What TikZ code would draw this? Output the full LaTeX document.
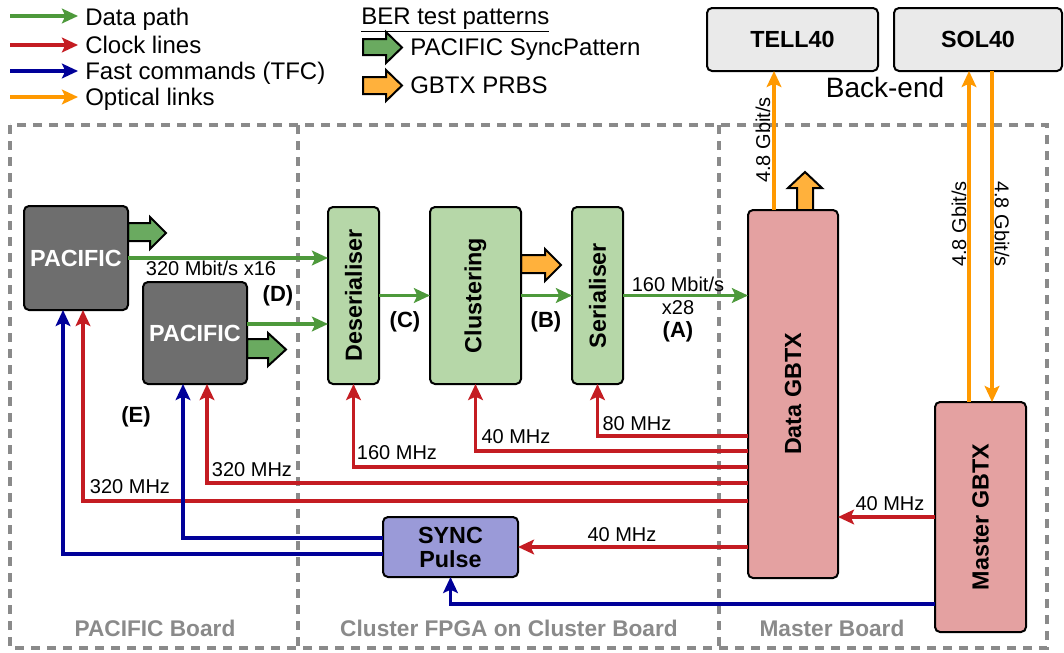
\documentclass[tikz,border=0pt]{standalone}
\usepackage{fontspec}
\setmainfont{Liberation Sans}
\usetikzlibrary{arrows.meta,calc}
\definecolor{cgreen}{RGB}{77,153,59}
\definecolor{cred}{RGB}{196,28,34}
\definecolor{cblue}{RGB}{0,0,153}
\definecolor{corange}{RGB}{255,153,0}
\definecolor{bgreen}{RGB}{106,170,96}
\definecolor{borange}{RGB}{255,177,60}
\definecolor{lgreen}{RGB}{182,215,168}
\definecolor{pink}{RGB}{228,161,161}
\definecolor{lav}{RGB}{154,154,216}
\definecolor{pacgray}{RGB}{110,110,110}
\definecolor{lgray}{RGB}{234,234,234}
\definecolor{fgray}{RGB}{138,138,138}
\newcommand{\myLbl}{\fontsize{15}{18}\selectfont}
\newcommand{\myLeg}{\fontsize{18}{21}\selectfont}
\newcommand{\myBox}{\bfseries\fontsize{17.5}{18}\selectfont}
\begin{document}
\begin{tikzpicture}[x=0.75pt,y=-0.75pt,
  box/.style={draw=black, line width=1.5pt, rounded corners=3.75pt, inner sep=0pt, outer sep=0pt},
  tip/.style={-{Stealth[length=12pt,width=11pt,inset=2.5pt]}},
  data/.style={draw=cgreen, line width=2.6pt, tip},
  clk/.style={draw=cred, line width=2.6pt, tip},
  tfc/.style={draw=cblue, line width=2.6pt, tip},
  opt/.style={draw=corange, line width=2.6pt, tip},
  blockarrow/.style={draw=black, line width=1.5pt, line join=miter},
  frame/.style={draw=fgray, line width=2.4pt, dash pattern=on 7pt off 5pt},
  lbl/.style={font=\myLbl, inner sep=0pt},
  tag/.style={font=\bfseries\fontsize{16.5}{18}\selectfont, inner sep=0pt},
  leg/.style={font=\myLeg, inner sep=0pt, anchor=base west},
  board/.style={font=\bfseries\fontsize{17}{20}\selectfont, text=fgray, inner sep=0pt},
  vtext/.style={font=\myBox}
]
\useasboundingbox (0,0) rectangle (1064,653);

% ---------- legend ----------
\coordinate (l1s) at (10,16);  \coordinate (l1e) at (78,16);
\coordinate (l2s) at (10,45);  \coordinate (l2e) at (78,45);
\coordinate (l3s) at (10,71);  \coordinate (l3e) at (78,71);
\coordinate (l4s) at (10,97);  \coordinate (l4e) at (78,97);
\draw[data] (l1s) -- (l1e);
\draw[clk]  (l2s) -- (l2e);
\draw[tfc]  (l3s) -- (l3e);
\draw[opt]  (l4s) -- (l4e);
\node[leg] (t1) at (85,25) {Data path};
\node[leg] (t2) at (85,53) {Clock lines};
\node[leg] (t3) at (85,79) {Fast commands (TFC)};
\node[leg] (t4) at (85,105) {Optical links};

\node[leg] (ber) at (361,24) {\underline{BER test patterns}};
\draw[blockarrow, fill=bgreen] (363,39)--(386,39)--(386,32)--(402,47.5)--(386,63)--(386,55)--(363,55)--cycle;
\draw[blockarrow, fill=borange] (363,77)--(386,77)--(386,70)--(402,85.5)--(386,101)--(386,94)--(363,94)--cycle;
\node[leg] (bt1) at (410,55) {PACIFIC SyncPattern};
\node[leg] (bt2) at (410,93) {GBTX PRBS};

% ---------- frame ----------
\draw[frame] (10,125) rectangle (1047,648);
\draw[frame] (298,125) -- (298,648);
\draw[frame] (719,125) -- (719,648);
\node[board] (b1) at (155,628) {PACIFIC Board};
\node[board] (b2) at (509,628) {Cluster FPGA on Cluster Board};
\node[board] (b3) at (832,628) {Master Board};

% ---------- block arrows (BER patterns) ----------
\draw[blockarrow, fill=bgreen] (128,223)--(150,223)--(150,217)--(166,233)--(150,249)--(150,241)--(128,241)--cycle;
\draw[blockarrow, fill=bgreen] (247,339)--(268,339)--(268,333)--(286,349.5)--(268,366)--(268,358)--(247,358)--cycle;
\draw[blockarrow, fill=borange] (521,255)--(545,255)--(545,249)--(561,265)--(545,281)--(545,273)--(521,273)--cycle;
\draw[blockarrow, fill=borange] (797,210)--(797,188)--(788,188)--(805,172)--(822,188)--(813,188)--(813,210)--cycle;

% ---------- boxes ----------
\node[box, fill=lgray, minimum width=128.25pt, minimum height=47.25pt, font=\myBox] (tell) at (792.5,39.5) {TELL40};
\node[box, fill=lgray, minimum width=126pt, minimum height=47.25pt, font=\myBox] (sol) at (978,39.5) {SOL40};
\node[font=\fontsize{21}{24}\selectfont, inner sep=0pt, anchor=base] (be) at (885,97) {Back-end};

\node[box, fill=pacgray, text=white, font=\myBox, minimum width=78pt, minimum height=78pt] (pac1) at (76,258) {PACIFIC};
\node[box, fill=pacgray, text=white, font=\myBox, minimum width=78pt, minimum height=76.5pt] (pac2) at (195,333) {PACIFIC};

\node[box, fill=lgreen, minimum width=38.25pt, minimum height=132.75pt,
  label={[vtext, rotate=90]center:Deserialiser}] (des) at (353.5,295.5) {};
\node[box, fill=lgreen, minimum width=68.25pt, minimum height=132.75pt,
  label={[vtext, rotate=90]center:Clustering}] (clu) at (475.5,295.5) {};
\node[box, fill=lgreen, minimum width=38.25pt, minimum height=132.75pt,
  label={[vtext, rotate=90]center:Serialiser}] (ser) at (597.5,295.5) {};

\node[box, fill=pink, minimum width=67.5pt, minimum height=276pt,
  label={[vtext, rotate=90]center:Data GBTX}] (dgbtx) at (793,394) {};
\node[box, fill=pink, minimum width=68.25pt, minimum height=172.5pt,
  label={[vtext, rotate=90]center:Master GBTX}] (mgbtx) at (980.5,517) {};

\node[box, fill=lav, minimum width=101.25pt, minimum height=45pt, font=\myBox, align=center] (sync) at (450.5,547) {SYNC\\Pulse};

% ---------- level coordinates ----------
\coordinate (y324) at (0,324);
\coordinate (y436) at (0,436);
\coordinate (y451) at (0,451);
\coordinate (y467) at (0,467);
\coordinate (y483) at (0,483);
\coordinate (y501) at (0,501);
\coordinate (y538) at (0,538);
\coordinate (y554) at (0,554);
\coordinate (y604) at (0,604);

% ---------- data path ----------
\draw[data] (pac1.east) -- (des.west |- pac1.east);
\draw[data] (pac2.east |- y324) -- (des.west |- y324);
\draw[data] (des.east) -- (clu.west);
\draw[data] (clu.east) -- (ser.west);
\draw[data] (ser.east) -- (dgbtx.west |- ser.east);

% ---------- clock lines ----------
\draw[clk] (dgbtx.west |- y436) -| (ser.south);
\draw[clk] (dgbtx.west |- y451) -| (clu.south);
\draw[clk] (dgbtx.west |- y467) -| (des.south);
\draw[clk] (dgbtx.west |- y483) -| ([xshift=9pt]pac2.south);
\draw[clk] (dgbtx.west |- y501) -| ([xshift=5.25pt]pac1.south);
\draw[clk] (dgbtx.west |- sync.east) -- (sync.east);
\draw[clk] (mgbtx.west) -- (dgbtx.east |- mgbtx.west);

% ---------- fast commands ----------
\draw[tfc] (sync.west |- y538) -| ([xshift=-9pt]pac2.south);
\draw[tfc] (sync.west |- y554) -| ([xshift=-9.75pt]pac1.south);
\draw[tfc] (mgbtx.west |- y604) -| (sync.south);

% ---------- optical links ----------
\draw[opt] ([xshift=-14.25pt]dgbtx.north) -- ([xshift=-14.25pt]dgbtx.north |- tell.south);
\draw[opt] ([xshift=-8.625pt]mgbtx.north) -- ([xshift=-8.625pt]mgbtx.north |- sol.south);
\draw[opt] ([xshift=8.625pt]mgbtx.north |- sol.south) -- ([xshift=8.625pt]mgbtx.north);

% ---------- labels ----------
\node[lbl] (o1) at (763,140) [rotate=90] {4.8 Gbit/s};
\node[lbl] (o2) at (959,224) [rotate=90] {4.8 Gbit/s};
\node[lbl] (o3) at (1002,224) [rotate=-90] {4.8 Gbit/s};

\node[lbl] (r320) at (211,268) {320 Mbit/s x16};
\node[tag] (D) at (278,296) {(D)};
\node[tag] (E) at (136,417) {(E)};
\node[tag] (C) at (405,322) {(C)};
\node[tag] (B) at (546,322) {(B)};
\node[lbl] (r160) at (678,284) {160 Mbit/s};
\node[lbl] (x28) at (678,308) {x28};
\node[tag] (A) at (678,332) {(A)};

\node[lbl] (f80) at (637,424) {80 MHz};
\node[lbl] (f40a) at (516,437) {40 MHz};
\node[lbl] (f160) at (397,453) {160 MHz};
\node[lbl] (f320a) at (252,470) {320 MHz};
\node[lbl] (f320b) at (130,487) {320 MHz};
\node[lbl] (f40b) at (622,535) {40 MHz};
\node[lbl] (f40c) at (890,504) {40 MHz};
\end{tikzpicture}
\end{document}
